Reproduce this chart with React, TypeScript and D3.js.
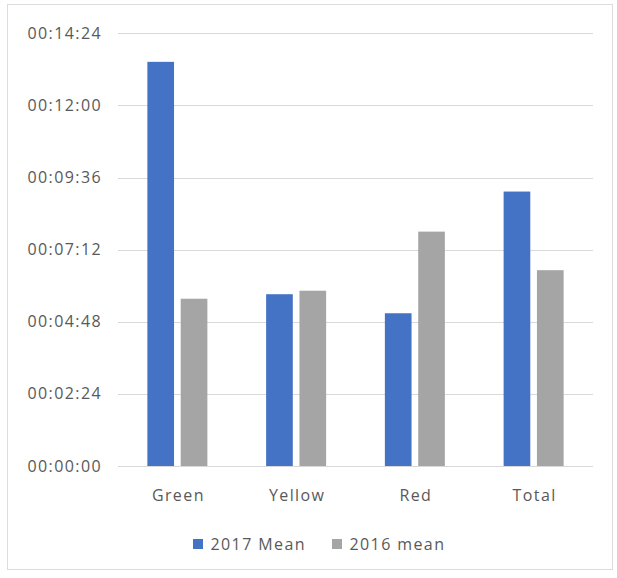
import React from "react";
import * as d3 from "d3";

const categories = ["Green", "Yellow", "Red", "Total"];
const seriesNames = ["2017 Mean", "2016 mean"];
// values in seconds
const mean2017 = [807, 343, 305, 548];
const mean2016 = [334, 350, 468, 391];
const tickValues = [0, 144, 288, 432, 576, 720, 864];
const colors = ["#4472C4", "#A5A5A5"];

const W = 617;
const H = 578;

function fmt(s: number) {
  const h = Math.floor(s / 3600);
  const m = Math.floor((s % 3600) / 60);
  const sec = Math.round(s % 60);
  const p = (n: number) => String(n).padStart(2, "0");
  return `${p(h)}:${p(m)}:${p(sec)}`;
}

export default function App() {
  const y = d3.scaleLinear().domain([0, 864]).range([466, 33.3]);
  const x0 = d3.scaleBand<string>().domain(categories).range([118, 593]);
  const x1 = d3.scaleBand<string>().domain(seriesNames).range([-30, 30]).paddingInner(0.2);
  const data = [mean2017, mean2016];
  const font = "'Open Sans', sans-serif";
  const textColor = "#595959";
  const ls = 1.4;

  return (
    <svg width={W} height={H} style={{ position: "absolute", left: 0, top: 0 }} fontFamily={font}>
      <rect x={0} y={0} width={W} height={H} fill="#fff" />
      <rect x={7.5} y={4.5} width={605} height={565} fill="#fff" stroke="#dcdcdc" />
      {tickValues.map((t) => (
        <g key={t}>
          <line x1={118} x2={593} y1={Math.round(y(t)) + 0.5} y2={Math.round(y(t)) + 0.5} stroke="#d9d9d9" strokeWidth={1} />
          <text x={102} y={y(t) + 5.5} textAnchor="end" fontSize={16} letterSpacing={ls} fill={textColor}>
            {fmt(t)}
          </text>
        </g>
      ))}
      {categories.map((c, i) => {
        const cx = (x0(c) as number) + x0.bandwidth() / 2;
        return (
          <g key={c}>
            {seriesNames.map((s, j) => {
              const v = data[j][i];
              return (
                <rect
                  key={s}
                  x={cx + (x1(s) as number)}
                  y={y(v)}
                  width={x1.bandwidth()}
                  height={y(0) - y(v)}
                  fill={colors[j]}
                />
              );
            })}
            <text x={cx + 1} y={500.5} textAnchor="middle" fontSize={16} letterSpacing={ls} fill={textColor}>
              {c}
            </text>
          </g>
        );
      })}
      {seriesNames.map((s, j) => {
        const lx = [193, 332][j];
        return (
          <g key={s}>
            <rect x={lx} y={539} width={10} height={10} fill={colors[j]} />
            <text x={lx + 17.5} y={549.5} fontSize={16} letterSpacing={ls} fill={textColor}>
              {s}
            </text>
          </g>
        );
      })}
    </svg>
  );
}
